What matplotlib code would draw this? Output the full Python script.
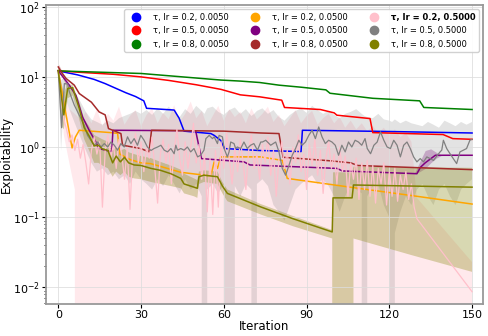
import matplotlib
matplotlib.use("Agg")
import matplotlib.pyplot as plt
from matplotlib.lines import Line2D

# ---- data ----
labels = ["τ, lr = 0.2, 0.0050", "τ, lr = 0.5, 0.0050", "τ, lr = 0.8, 0.0050",
          "τ, lr = 0.2, 0.0500", "τ, lr = 0.5, 0.0500", "τ, lr = 0.8, 0.0500",
          "τ, lr = 0.2, 0.5000", "τ, lr = 0.5, 0.5000", "τ, lr = 0.8, 0.5000"]
colors = ["blue", "red", "green", "orange", "purple", "brown", "pink", "gray", "olive"]

blue_x = [0, 7, 13, 17, 21, 24.5, 28, 31, 32, 42, 43.8, 45.6, 55.3, 56.5, 58.8, 60.3, 73, 88, 88.5, 120, 150]
blue_y = [12.3, 10.8, 9.3, 8.1, 6.9, 6.0, 5.3, 4.6, 3.6, 3.4, 2.6, 1.7, 1.57, 1.48, 1.26, 0.96, 0.9, 0.87, 1.75, 1.68, 1.6]

red_x = [0, 10, 20, 30, 40, 50, 59, 66, 73, 81, 82, 95, 100, 101, 113, 114, 139.5, 143, 150]
red_y = [12.3, 11.6, 11.0, 10.1, 9.0, 7.8, 6.7, 5.6, 5.25, 4.7, 3.7, 3.46, 3.1, 2.87, 2.57, 1.62, 1.52, 1.33, 1.30]

green_x = [0, 30, 59, 66, 73, 80, 88, 97, 98.5, 114, 131, 132.5, 150]
green_y = [12.3, 11.3, 9.1, 8.8, 8.4, 7.7, 7.2, 6.6, 5.9, 5.0, 4.6, 3.7, 3.46]

orange_x = [0, 2, 5, 6.2, 7.6, 19, 21.5, 22.3, 26, 30, 33.5, 44.4, 55.3, 56.5, 57.7, 58.9, 73.4, 81.2, 83, 110, 130, 150]
orange_y = [12, 4.4, 0.98, 1.4, 1.75, 1.62, 1.58, 0.8, 0.67, 0.6, 0.585, 0.44, 0.39, 0.62, 0.5, 0.73, 0.73, 0.65, 0.36, 0.256, 0.2, 0.155]

purple_x = [0, 4, 6.4, 8.8, 11.2, 13.6, 14.8, 18.5, 19.4, 19.8, 49.8, 51.9, 67.3, 69.5, 101, 103, 130, 131.3, 133, 136.7, 150]
purple_y = [12.3, 7.7, 5.5, 2.7, 1.75, 1.19, 0.96, 0.88, 0.88, 1.75, 1.72, 0.69, 0.62, 0.56, 0.5, 0.46, 0.42, 0.52, 0.6, 0.77, 0.77]
purple_fx = [129, 131, 133, 135, 137, 139]
purple_hi = [0.42, 0.62, 0.9, 0.95, 0.85, 0.77]
purple_lo = [0.42, 0.45, 0.5, 0.6, 0.7, 0.77]

brown_x = [0, 1, 2.8, 5.8, 7.6, 12, 14.8, 17, 18.2, 22.7, 23.3, 29.9, 32.9, 33.8, 60, 73.4, 80, 81.5, 99, 106, 108.5, 150]
brown_y = [14, 12, 9.6, 7.7, 5.85, 4.4, 3.2, 2.9, 1.85, 1.57, 1.07, 0.96, 0.86, 1.75, 1.7, 1.6, 1.57, 0.72, 0.64, 0.6, 0.55, 0.48]
brown_fx = [0, 1, 2, 3]
brown_hi = [15.5, 13, 10, 8]
brown_lo = [12, 11, 9, 7]

pink_x = list(range(0, 131)) + [150]
pink_y = [12, 5, 2.5, 1.8, 1.2, 1.5, 0.9, 1.3, 0.7, 1.1,
          0.6, 0.3, 0.9, 1.4, 0.8, 1.2, 0.14, 0.9, 1.5, 0.7,
          1.1, 0.5, 1.3, 0.8, 0.35, 1.0, 0.13, 0.9, 1.6, 0.6,
          1.2, 0.45, 1.0, 0.7, 1.4, 0.5, 0.16, 0.8, 1.3, 0.6,
          1.1, 0.3, 0.9, 1.8, 0.7, 0.4, 1.2, 0.5, 1.0, 2.2,
          0.6, 1.1, 0.35, 0.8, 0.12, 0.7, 0.11, 0.9, 0.14, 1.2,
          0.5, 1.6, 0.7, 0.3, 1.0, 0.45, 1.3, 0.6, 0.25, 0.9,
          1.5, 0.5, 0.8, 0.35, 1.1, 0.6, 1.4, 0.4, 0.9, 0.2,
          0.7, 1.2, 0.5, 0.9, 0.3, 1.0, 0.6, 1.5, 0.45, 0.8,
          0.25, 1.1, 0.55, 1.3, 0.4, 0.9, 0.22, 0.7, 1.2, 0.5,
          0.8, 0.3, 1.0, 0.45, 0.75, 0.2, 0.6, 0.35, 0.7, 0.18,
          0.6, 0.25, 0.65, 0.2, 0.55, 0.16, 0.5, 0.3, 0.6, 0.15,
          0.45, 0.2, 0.5, 0.17, 0.4, 0.25, 0.45, 0.18, 0.3, 0.14,
          0.096, 0.0087]
pink_fx = list(range(0, 131, 2)) + [150]
pink_hi = [13, 6, 3.5, 3, 2.5, 3.2, 2.2, 3.5, 2.0, 3.0,
           2.4, 3.8, 2.1, 2.8, 3.4, 2.0, 2.9, 3.6, 2.2, 3.1,
           2.5, 4.0, 2.3, 3.0, 4.5, 2.6, 3.3, 2.0, 2.8, 3.9,
           2.4, 3.5, 2.7, 3.2, 2.2, 3.6, 2.5, 3.0, 3.8, 2.3,
           2.9, 2.0, 2.6, 3.4, 2.2, 2.8, 3.3, 2.1, 2.6, 3.0,
           2.2, 2.7, 1.9, 2.4, 1.8, 2.2, 1.7, 2.0, 1.6, 1.9,
           1.5, 1.8, 1.4, 1.6, 1.2, 0.19, 0.023]
pink_lo = [12, 1.5, 0.6, 0.25] + [0] * 63

gray_x = [0, 1.2, 2.2, 3.4, 4, 5.8, 7.6, 9.4, 10.6, 11.8, 13, 14.3, 15.5, 16.7, 17.9, 19.1, 20.3, 21.5,
          22.7, 23.9, 25.1, 26.3, 27.5, 28.7, 29.9, 31.1, 32.3, 33.6, 34.7, 36.0, 37.2, 38.4, 39.6,
          40.8, 42.0, 42.6, 43.2, 44.4, 45.6, 46.8, 48.0, 49.2, 50.5, 51.6, 52.8, 53.5, 54.7, 55.9,
          56.5, 57.7, 58.3, 59.5, 60.1, 61.3, 61.9, 62.5, 63.7, 64.3, 64.9, 66.1, 67.3, 68.5, 69.7,
          70.9, 72.2, 73.4, 74.0, 75.2, 77.0, 78.8, 80.0, 81.2, 82.4, 83.6, 84.8, 86.0, 87.2, 88.4,
          89.6, 90.8, 92.0, 93.2, 94.4, 95.6, 96.8, 98.0, 99.2, 100.4, 101.6, 102.8, 104.0, 105.2,
          106.4, 107.6, 108.8, 110.0, 111.2, 112.0, 113.2, 114.4, 115.6, 116.8, 118.0, 119.2, 120.4,
          121.6, 122.8, 124.0, 125.2, 126.4, 127.6, 128.8, 130.0, 131.2, 132.4, 133.6, 134.8, 136.0,
          138.4, 139.0, 139.6, 140.8, 142.0, 143.2, 144.4, 145.6, 146.8, 148.0, 149.2, 150]
gray_y = [12, 1.9, 8.1, 8.0, 6.2, 4.0, 2.87, 2.06, 1.48, 1.26, 1.07, 1.19, 1.01, 1.13, 1.01, 1.19, 1.07, 0.91,
          1.13, 1.01, 1.41, 1.13, 1.33, 1.07, 1.48, 1.26, 1.01, 0.9, 0.96, 1.01, 1.07, 0.91, 0.86,
          0.96, 0.81, 1.07, 0.91, 0.96, 0.91, 1.01, 0.86, 0.96, 0.73, 0.77, 0.91, 1.33, 1.48, 1.33,
          1.41, 1.13, 1.48, 1.41, 0.96, 0.73, 0.86, 1.19, 1.13, 0.96, 1.01, 0.96, 1.19, 0.96, 1.07,
          1.13, 0.91, 1.19, 1.19, 1.26, 1.07, 1.19, 0.86, 0.50, 0.40, 0.55, 0.77, 0.96, 1.26, 1.07,
          1.19, 1.48, 1.75, 1.33, 1.95, 1.41, 1.13, 1.26, 1.19, 1.07, 0.77, 1.07, 0.86, 1.19,
          1.01, 1.26, 1.19, 1.07, 1.33, 0.96, 0.81, 1.07, 1.19, 1.66, 1.26, 1.01, 0.96,
          1.26, 1.07, 0.73, 1.07, 1.19, 0.96, 0.73, 0.62, 0.69, 0.62, 0.73, 0.69, 0.65,
          0.86, 0.91, 1.26, 0.96, 0.81, 0.69, 0.585, 0.86, 0.91, 0.96, 1.26, 1.3]
gray_fx = [0, 1, 2, 3, 4, 6, 8, 10, 12, 14, 16, 18, 20, 22, 24, 26, 28, 30, 32, 34, 36, 38, 40,
           42, 44, 46, 48, 50, 52, 53, 54, 56, 58, 60, 62, 64, 66, 68, 70, 71, 72, 74, 76, 78, 80,
           82, 84, 86, 88, 90, 92, 94, 96, 98, 100, 102, 104, 106, 108, 110, 111, 112, 114, 116,
           118, 120, 121, 122, 124, 126, 128, 130, 132, 134, 136, 138, 140, 142, 144, 146, 148, 150]
gray_hi = [13, 9, 10, 9, 8, 6, 4.5, 3.2, 2.5, 2.3, 2.1, 2.4, 2.2, 2.6, 2.8, 3.0, 3.3, 3.0, 3.4, 2.9, 3.6, 3.0, 3.8,
           3.2, 2.7, 3.5, 3.0, 3.9, 3.3, 3.0, 3.6, 3.8, 3.2, 2.9, 3.4, 3.7, 3.0, 3.5, 2.8, 3.0, 3.3, 3.6, 3.0, 3.4, 2.7,
           2.4, 2.9, 3.3, 3.6, 3.1, 3.9, 3.4, 3.0, 3.3, 2.9, 2.6, 3.0, 3.2, 3.5, 3.0, 2.8, 2.7, 2.6, 3.0,
           2.5, 2.4, 2.3, 2.5, 2.2, 2.4, 2.2, 2.1, 2.0, 2.3, 2.1, 1.9, 2.4, 2.2, 2.0, 2.3, 2.1, 2.3]
gray_lo = [11, 0.9, 4, 4.5, 3.5, 2.2, 1.4, 0.9, 0.6, 0.45, 0.5, 0.4, 0.45, 0.35, 0.4, 0.3, 0.45, 0.35, 0.3, 0.25, 0.35, 0.28, 0.4,
           0.3, 0.22, 0.35, 0.25, 0.3, 0.2, 0, 0.25, 0.3, 0.22, 0.3, 0, 0.28, 0.2, 0.3, 0.25, 0, 0.3, 0.35, 0.28, 0.15, 0.12,
           0.09, 0.15, 0.25, 0.3, 0.35, 0.4, 0.3, 0.35, 0.28, 0.2, 0.12, 0.2, 0.3, 0.25, 0.22, 0, 0.2, 0.28, 0.3,
           0.15, 0.1, 0, 0.06, 0.12, 0.2, 0.15, 0.25, 0.3, 0.2, 0.15, 0.25, 0.3, 0.2, 0.15, 0.25, 0.3, 0.35]

olive_x = [0, 1.2, 2, 3.4, 5.2, 7.6, 9.4, 11.2, 13, 14.5, 16, 18, 19.7, 21, 22.5, 24, 25.5, 27.5, 30, 33.6,
           37, 40.8, 44.4, 45.6, 49.2, 50.4, 51, 52.8, 57.7, 59.5, 61.3, 73.4, 85, 99.3, 99.6, 106.5, 107, 128, 150]
olive_y = [12.5, 5, 2.9, 6.9, 7.1, 3.6, 1.9, 1.45, 1.05, 1.07, 0.95, 0.9, 0.6, 0.75, 0.62, 0.72, 0.6, 0.56, 0.55, 0.5,
           0.47, 0.42, 0.36, 0.30, 0.27, 0.26, 0.38, 0.40, 0.38, 0.28, 0.22, 0.141, 0.096, 0.062, 0.19, 0.19, 0.29, 0.28, 0.27]
olive_hi = [13, 8, 6, 8, 7.8, 4.5, 2.5, 2.0, 1.5, 1.4, 1.3, 1.2, 0.9, 1.0, 0.9, 0.95, 0.85, 0.8, 0.75, 0.7,
            0.62, 0.55, 0.48, 0.42, 0.36, 0.34, 0.45, 0.47, 0.45, 0.32, 0.25, 0.155, 0.105, 0.066, 0.44, 0.44, 0.53, 0.52, 0.51]
olive_lo = [12, 2, 1.8, 5, 5.5, 2.5, 1.3, 0.9, 0.6, 0.6, 0.55, 0.5, 0.38, 0.45, 0.4, 0.45, 0.38, 0.36, 0.35, 0.32,
            0.3, 0.28, 0.26, 0.22, 0.2, 0.19, 0.3, 0.32, 0.3, 0.22, 0.17, 0.11, 0.075, 0.05, 0, 0, 0.05, 0.029, 0.0167]

series = [
    (blue_x, blue_y, None),
    (red_x, red_y, None),
    (green_x, green_y, None),
    (orange_x, orange_y, None),
    (purple_x, purple_y, (purple_fx, purple_lo, purple_hi)),
    (brown_x, brown_y, (brown_fx, brown_lo, brown_hi)),
    (pink_x, pink_y, (pink_fx, pink_lo, pink_hi)),
    (gray_x, gray_y, (gray_fx, gray_lo, gray_hi)),
    (olive_x, olive_y, (olive_x, olive_lo, olive_hi)),
]

fig = plt.figure(figsize=(4.88, 3.36), dpi=100)
ax = fig.add_axes([0.094, 0.095, 0.896, 0.89])
ax.set_yscale("log")

for (x, y, band), c in zip(series, colors):
    lw = 0.9 if c in ("pink", "gray") else 1.1
    ax.plot(x, y, color=c, lw=lw)
    if band is not None:
        fx, lo, hi = band
        a = {"pink": 0.35, "gray": 0.22}.get(c, 0.3)
        ax.fill_between(fx, lo, hi, color=c, alpha=a, lw=0)

ax.set_xlim(-4.5, 154)
ax.set_ylim(0.0058, 107)
ax.set_xticks([0, 30, 60, 90, 120, 150])
ax.tick_params(labelsize=8, length=3, pad=1.5)
ax.tick_params(which="minor", length=1.8)
ax.set_xlabel("Iteration", fontsize=8.5, labelpad=0)
ax.set_ylabel("Exploitability", fontsize=8.5, labelpad=0)
ax.grid(True, which="major", color="#dddddd", lw=0.7, alpha=0.8)
for s in ax.spines.values():
    s.set_color("#999999")
    s.set_linewidth(1.3)

handles = [Line2D([], [], marker="o", ls="", color=c, markersize=6) for c in colors]
leg = ax.legend(handles, labels, ncol=3, loc="upper right", fontsize=6,
                handletextpad=1.0, columnspacing=2.2, labelspacing=0.55,
                borderaxespad=0.5, framealpha=0.9)
leg.get_texts()[6].set_fontweight("bold")

fig.savefig("out.png", dpi=100)
